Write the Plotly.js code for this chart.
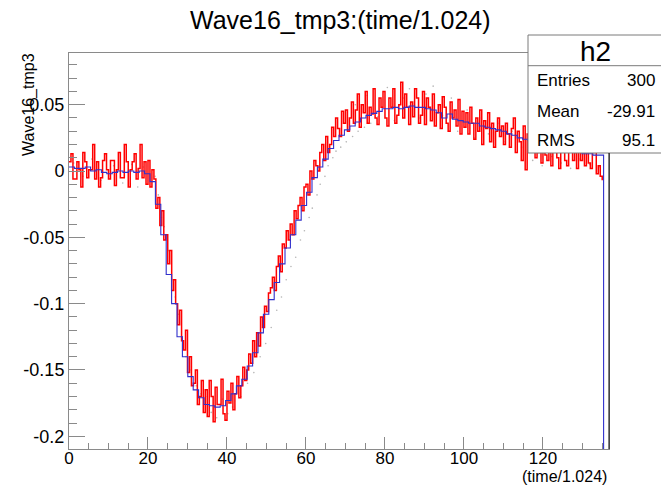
<!DOCTYPE html>
<html>
<head>
<meta charset="utf-8">
<script src="https://cdn.plot.ly/plotly-3.0.1.min.js"></script>
<style>
  html, body { margin: 0; padding: 0; background: #fff; }
  #plot { width: 661px; height: 485px; }
</style>
</head>
<body>
<div id="plot"></div>
<script>
// ---------------- data ----------------
// blue histogram (profile) : 100 bins over [0, 136.72]
const binLow = 0;
const binHigh = 136.72;
const blueBins = [
  0.003, 0.002, 0.002, 0.003, 0.000, 0.001, -0.001, -0.002, -0.001, 0.000,
  -0.001, 0.000, -0.001, 0.000, -0.002, -0.008, -0.025, -0.048, -0.078, -0.100,
  -0.125, -0.140, -0.155, -0.165, -0.171, -0.176, -0.177, -0.178, -0.177, -0.173,
  -0.168, -0.162, -0.157, -0.147, -0.137, -0.122, -0.108, -0.097, -0.084, -0.070,
  -0.058, -0.048, -0.037, -0.026, -0.016, -0.005, 0.003, 0.009, 0.017, 0.023,
  0.027, 0.031, 0.034, 0.037, 0.040, 0.042, 0.0435, 0.045, 0.047, 0.047,
  0.048, 0.047, 0.048, 0.049, 0.048, 0.048, 0.047, 0.046, 0.044, 0.040,
  0.043, 0.039, 0.038, 0.037, 0.036, 0.036, 0.034, 0.033, 0.032, 0.031,
  0.030, 0.028, 0.027, 0.025, 0.024, 0.023, 0.022, 0.021, 0.020, 0.019,
  0.018, 0.017, 0.016, 0.015, 0.014, 0.013, 0.013, 0.012, 0.012, -0.300
];

// red waveform : samples every 0.5 starting at 0
const redStart = 0;
const redStep = 0.5;
const redValues = [
  0.007, 0.013, -0.006, -0.006, 0.007, 0.001, -0.012, 0.014, 0.007, -0.005,
  0.001, 0.001, 0.020, -0.006, 0.007, -0.012, -0.005, 0.008, 0.013, 0.001,
  -0.006, 0.008, 0.008, -0.011, 0.001, 0.014, -0.005, -0.005, 0.020, 0.007,
  -0.012, 0.001, 0.007, 0.013, -0.006, 0.002, 0.020, -0.005, 0.007, -0.010,
  0.008, -0.012, 0.001, -0.006, -0.028, -0.020, -0.041, -0.030, -0.052, -0.048,
  -0.070, -0.060, -0.090, -0.082, -0.100, -0.116, -0.105, -0.128, -0.135, -0.120,
  -0.152, -0.140, -0.162, -0.160, -0.150, -0.176, -0.170, -0.158, -0.182, -0.165,
  -0.185, -0.158, -0.170, -0.189, -0.163, -0.176, -0.176, -0.157, -0.183, -0.188,
  -0.166, -0.175, -0.160, -0.180, -0.168, -0.155, -0.171, -0.162, -0.148, -0.158,
  -0.150, -0.138, -0.145, -0.128, -0.140, -0.122, -0.132, -0.110, -0.118, -0.102,
  -0.106, -0.092, -0.088, -0.080, -0.090, -0.072, -0.064, -0.076, -0.055, -0.058,
  -0.045, -0.052, -0.040, -0.048, -0.030, -0.036, -0.026, -0.020, -0.030, -0.012,
  -0.010, -0.018, 0.000, -0.006, 0.008, 0.004, 0.000, 0.014, 0.020, 0.008,
  0.026, 0.014, 0.020, 0.033, 0.026, 0.040, 0.032, 0.026, 0.045, 0.036,
  0.046, 0.030, 0.040, 0.052, 0.036, 0.046, 0.058, 0.033, 0.050, 0.044,
  0.060, 0.036, 0.048, 0.043, 0.062, 0.040, 0.035, 0.055, 0.048, 0.060,
  0.040, 0.034, 0.055, 0.048, 0.062, 0.036, 0.042, 0.050, 0.067, 0.040,
  0.058, 0.048, 0.035, 0.052, 0.041, 0.062, 0.055, 0.036, 0.042, 0.060,
  0.035, 0.055, 0.048, 0.038, 0.058, 0.034, 0.044, 0.050, 0.032, 0.056,
  0.048, 0.036, 0.030, 0.052, 0.040, 0.046, 0.034, 0.054, 0.028, 0.045,
  0.033, 0.044, 0.028, 0.048, 0.036, 0.024, 0.040, 0.030, 0.046, 0.020,
  0.038, 0.032, 0.044, 0.022, 0.036, 0.018, 0.030, 0.040, 0.026, 0.034,
  0.020, 0.036, 0.028, 0.018, 0.032, 0.040, 0.014, 0.030, 0.022, 0.008,
  0.034, 0.001, 0.028, 0.016, 0.026, 0.032, 0.010, 0.014, 0.024, 0.006,
  0.028, 0.012, 0.008, 0.022, 0.004, 0.026, 0.018, 0.010, 0.002, 0.020,
  0.024, 0.008, 0.004, 0.018, 0.022, 0.008, 0.014, 0.002, 0.020, 0.008,
  0.016, 0.004, 0.022, 0.006, 0.002, 0.014, 0.016, -0.002, 0.004, -0.004, -0.007
];

// grey scatter points
const dotX = [
  1.2, 3.5, 5.8, 8.1, 11.3, 13.6, 15.9, 17.4, 18.8,
  21.8, 22.6, 23.4, 24.1, 25.2, 26.1, 26.9, 27.8, 28.7, 29.6, 30.9, 32.2, 33.4, 34.6,
  36.0, 37.4, 38.8, 40.2, 41.4,
  43.5, 45.2, 46.8, 48.4, 49.8, 51.2, 52.6, 53.8, 55.0, 56.2, 57.4, 58.6, 59.6, 60.8,
  61.6, 62.8, 63.6, 64.8, 65.6, 66.8, 67.6, 68.8, 70.2, 71.8, 73.2, 74.8, 76.4,
  72.5, 75.5, 78.2, 80.6, 82.4, 84.8, 86.2, 88.6, 90.4, 92.2, 94.6, 96.8, 98.4,
  100.8, 102.6, 104.4, 106.2, 108.6, 110.4, 112.2, 114.6, 117.4, 119.8, 122.2,
  124.6, 127.0, 129.4, 131.8, 134.2
];
const dotY = [
  0.006, -0.004, 0.009, -0.007, 0.004, -0.009, 0.005, -0.012, 0.003,
  -0.004, -0.018, -0.035, -0.042, -0.060, -0.082, -0.095, -0.108, -0.125, -0.140, -0.150, -0.162, -0.168, -0.170,
  -0.182, -0.186, -0.172, -0.183, -0.178,
  -0.170, -0.160, -0.152, -0.140, -0.130, -0.118, -0.105, -0.095, -0.082, -0.072, -0.065, -0.052, -0.045, -0.035,
  -0.028, -0.018, -0.010, -0.004, 0.004, 0.010, 0.015, 0.018, 0.022, 0.026, 0.030, 0.033, 0.036,
  0.050, 0.057, 0.041, 0.063, 0.038, 0.055, 0.062, 0.040, 0.058, 0.064, 0.042, 0.055, 0.030,
  0.046, 0.025, 0.040, 0.028, 0.036, 0.022, 0.030, 0.018, 0.008, 0.004, 0.011,
  0.006, 0.002, 0.009, 0.005, 0.003
];

// axis ticks and texts
const yTickVals = [-0.2, -0.15, -0.1, -0.05, 0, 0.05];
const yTickText = ['-0.2', '-0.15', '-0.1', '-0.05', '0', '0.05'];
const xTickVals = [0, 20, 40, 60, 80, 100, 120];
const xTickText = ['0', '20', '40', '60', '80', '100', '120'];
const statLabels = ['Entries', 'Mean', 'RMS'];
const statValues = ['300', '-29.91', '95.1'];
const histName = 'h2';
const titleText = 'Wave16_tmp3:(time/1.024)';
const xTitle = '(time/1.024)';
const yTitle = 'Wave16_tmp3';

// ---------------- build traces ----------------
const nb = blueBins.length;
const bw = (binHigh - binLow) / nb;
const blueX = [], blueY = [];
for (let i = 0; i <= nb; i++) {
  blueX.push(binLow + i * bw);
  blueY.push(blueBins[Math.min(i, nb - 1)]);
}
const redX = redValues.map((_, i) => redStart + i * redStep);

const FONT = 'Liberation Sans, Arial, Helvetica, sans-serif';

const traces = [
  { x: dotX, y: dotY, type: 'scatter', mode: 'markers',
    marker: { size: 1.6, color: 'rgba(90,90,90,0.45)' }, hoverinfo: 'skip' },
  { x: redX, y: redValues, type: 'scatter', mode: 'lines',
    line: { color: '#ff0000', width: 1.5, shape: 'hv' }, hoverinfo: 'skip' },
  { x: blueX, y: blueY, type: 'scatter', mode: 'lines',
    line: { color: '#3030cc', width: 1.1, shape: 'hv' }, hoverinfo: 'skip' }
];

// ---------------- layout helpers (pixel -> paper) ----------------
const L = 69, T = 53, PW = 540, PH = 396;
const px = x => (x - L) / PW;
const py = y => (T + PH - y) / PH;

const annotations = [
  { text: titleText, x: px(340), y: py(20), xanchor: 'center', yanchor: 'middle',
    font: { size: 25, color: '#000', family: FONT } },
  { text: yTitle, x: px(29), y: py(105), xanchor: 'center', yanchor: 'middle', textangle: -90,
    font: { size: 16, color: '#000', family: FONT } },
  { text: xTitle, x: px(609), y: py(476), xanchor: 'right', yanchor: 'middle',
    font: { size: 16, color: '#000', family: FONT } },
  { text: histName, x: px(595), y: py(51), xanchor: 'center', yanchor: 'middle',
    font: { size: 28, color: '#000', family: FONT } }
];
const statY = [80, 111, 140];
statLabels.forEach((s, i) => {
  annotations.push({ text: s, x: px(535), y: py(statY[i]), xanchor: 'left', yanchor: 'middle',
    font: { size: 17, color: '#000', family: FONT } });
  annotations.push({ text: statValues[i], x: px(657), y: py(statY[i]), xanchor: 'right', yanchor: 'middle',
    font: { size: 17, color: '#000', family: FONT } });
});
annotations.forEach(a => { a.xref = 'paper'; a.yref = 'paper'; a.showarrow = false; });

const shapes = [
  { type: 'rect', xref: 'paper', yref: 'paper', x0: px(528), x1: px(663), y0: py(153), y1: py(35),
    fillcolor: '#ffffff', line: { color: '#7a7a7a', width: 1 }, layer: 'above' },
  { type: 'line', xref: 'paper', yref: 'paper', x0: px(528), x1: px(663), y0: py(65.7), y1: py(65.7),
    line: { color: '#7a7a7a', width: 1 }, layer: 'above' },
  { type: 'line', xref: 'paper', yref: 'paper', x0: 1, x1: 1, y0: 0, y1: py(153),
    line: { color: '#000000', width: 1 }, layer: 'above' }
];

const layout = {
  width: 661, height: 485,
  margin: { l: L, r: 661 - L - PW, t: T, b: 485 - T - PH, pad: 0 },
  paper_bgcolor: '#ffffff', plot_bgcolor: '#ffffff',
  showlegend: false,
  font: { family: FONT, color: '#000' },
  xaxis: {
    range: [binLow, binHigh], showgrid: false, zeroline: false,
    showline: true, linecolor: '#8a8a8a', linewidth: 1, mirror: true,
    ticks: 'inside', ticklen: 12, tickcolor: '#8a8a8a', tickwidth: 1,
    tickmode: 'array', tickvals: xTickVals, ticktext: xTickText,
    tickfont: { size: 17, family: FONT, color: '#000' },
    ticklabelstandoff: -6,
    minor: { ticks: 'inside', ticklen: 6, tickcolor: '#8a8a8a', dtick: 5, tick0: 0, showgrid: false }
  },
  yaxis: {
    range: [-0.2096, 0.089], showgrid: false, zeroline: false,
    showline: true, linecolor: '#8a8a8a', linewidth: 1, mirror: true,
    ticks: 'inside', ticklen: 16, tickcolor: '#8a8a8a', tickwidth: 1,
    tickmode: 'array', tickvals: yTickVals, ticktext: yTickText,
    tickfont: { size: 18, family: FONT, color: '#000' },
    minor: { ticks: 'inside', ticklen: 8, tickcolor: '#8a8a8a', dtick: 0.01, tick0: 0, showgrid: false }
  },
  annotations: annotations,
  shapes: shapes
};

Plotly.newPlot('plot', traces, layout, { displayModeBar: false, staticPlot: true });
</script>
</body>
</html>
